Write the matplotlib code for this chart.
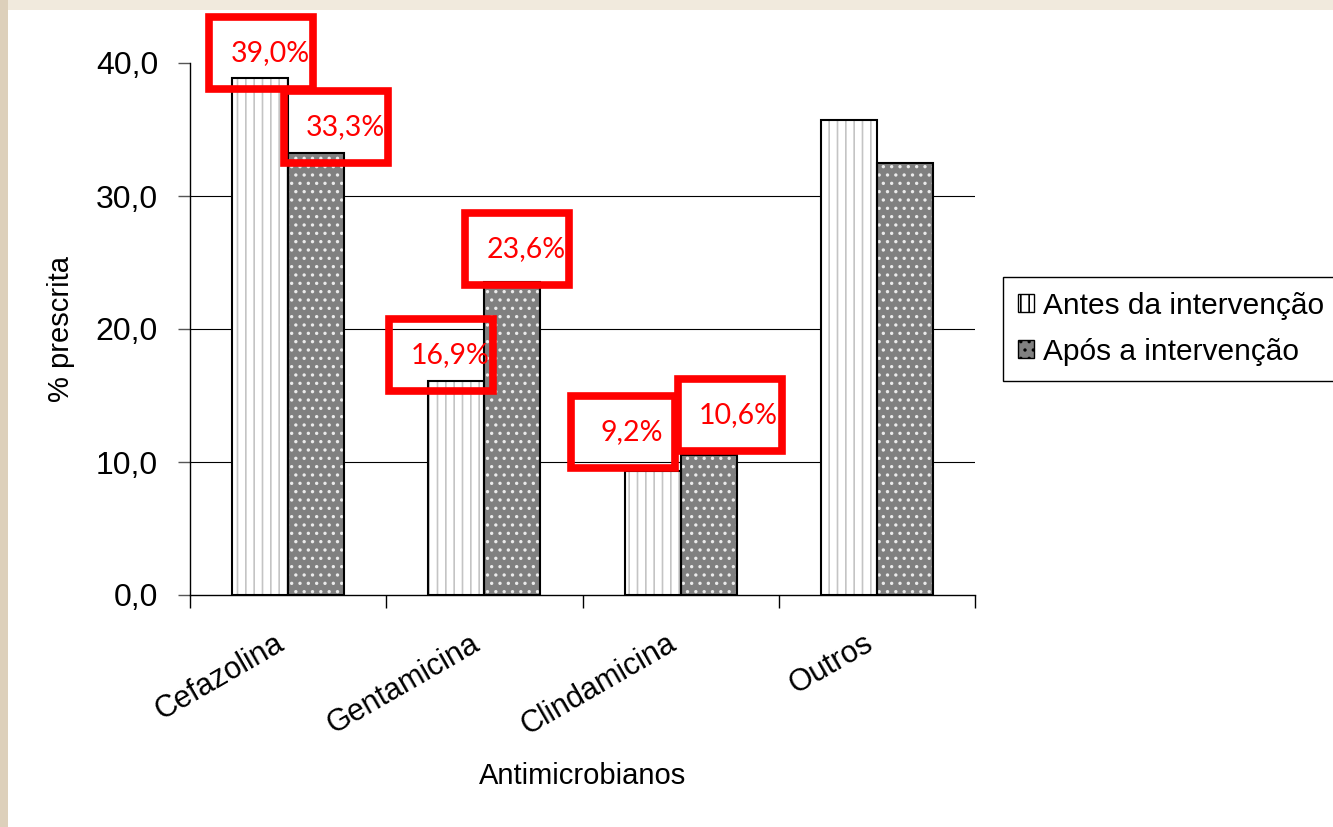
import matplotlib
matplotlib.use('Agg')
import matplotlib.pyplot as plt
import matplotlib.transforms as mtransforms
from matplotlib.patches import Rectangle, Patch
import numpy as np

# data
categories = ['Cefazolina', 'Gentamicina', 'Clindamicina', 'Outros']
antes = [38.9, 16.1, 9.3, 35.7]
apos = [33.2, 23.5, 10.5, 32.5]
series_names = ['Antes da intervenção', 'Após a intervenção']

# highlighted labels: (category index, series 0/1, text)
highlights = [(0, 0, '39,0%'), (0, 1, '33,3%'),
              (1, 0, '16,9%'), (1, 1, '23,6%'),
              (2, 0, '9,2%'), (2, 1, '10,6%')]
# box centre offsets from bar top centre, in pixels (dx, dy)
box_offsets = [(1, 25), (20, 26), (-15, 26), (5, 33), (-30, 39), (21, 40)]

plt.rcParams['font.family'] = ['Liberation Sans', 'DejaVu Sans']
plt.rcParams['hatch.linewidth'] = 1.2

W, H = 1333, 827
fig = plt.figure(figsize=(W / 100, H / 100), dpi=100, facecolor='#f1eadd')
# white slide panel
fig.patches.append(Rectangle((8 / W, 0), 1, 1 - 10 / H, transform=fig.transFigure,
                             facecolor='white', edgecolor='none', zorder=-10))
fig.patches.append(Rectangle((0, 0), 8 / W, 1, transform=fig.transFigure,
                             facecolor='#ddd0bb', edgecolor='none', zorder=-10))

ax_l, ax_r, ax_t, ax_b = 190, 975, 63, 595
ax = fig.add_axes([ax_l / W, 1 - ax_b / H, (ax_r - ax_l) / W, (ax_b - ax_t) / H])
ax.set_facecolor('none')
ax.set_zorder(1)

x = np.arange(len(categories))
bw = 0.285
xa = x - bw / 2
xp = x + bw / 2

# hatched fills (hatch colour follows edgecolor), then black outlines on top
ax.bar(xa, antes, bw, color='white', edgecolor='#c4c4c4', hatch='||', linewidth=0, zorder=2)
ax.bar(xp, apos, bw, color='#808080', edgecolor='#ececec', hatch='..', linewidth=0, zorder=2)
ax.bar(xa, antes, bw, fill=False, edgecolor='black', linewidth=1.5, zorder=3)
ax.bar(xp, apos, bw, fill=False, edgecolor='black', linewidth=1.5, zorder=3)

ax.set_xlim(-0.5, len(categories) - 0.5)
ax.set_ylim(0, 40)
ax.set_yticks([0, 10, 20, 30, 40])
ax.set_yticklabels(['0,0', '10,0', '20,0', '30,0', '40,0'], fontsize=23)
for yv in [10, 20, 30]:
    ax.axhline(yv, color='black', linewidth=0.8, zorder=1)

ax.set_xticks(np.arange(len(categories) + 1) - 0.5)
ax.set_xticklabels([])
ax.set_xticks(x, minor=True)
ax.set_xticklabels(categories, minor=True, rotation=30, ha='right',
                   rotation_mode='anchor', fontsize=22)
ax.tick_params(axis='x', which='minor', length=0, pad=24)
ax.tick_params(axis='x', which='major', length=9, width=1, direction='out')
ax.tick_params(axis='y', length=9, width=1, direction='out', pad=14, color='#555555')
shift = mtransforms.ScaledTranslation(-14 / 100, 0, fig.dpi_scale_trans)
for lab in ax.get_xticklabels(minor=True):
    lab.set_transform(lab.get_transform() + shift)

for s in ['top', 'right']:
    ax.spines[s].set_visible(False)
for s in ['left', 'bottom']:
    ax.spines[s].set_linewidth(1)

ax.set_ylabel('% prescrita', fontsize=21)
ax.yaxis.set_label_coords((75 - ax_l) / (ax_r - ax_l), 0.5)
ax.set_xlabel('Antimicrobianos', fontsize=21)
ax.xaxis.set_label_coords(0.5, (ax_b - 762) / (ax_b - ax_t))

# red highlight boxes
pxx = (ax_r - ax_l) / (len(categories))
pxy = (ax_b - ax_t) / 40.0
bw_px, bh_px = 104, 72
for (ci, si, txt), (dx, dy) in zip(highlights, box_offsets):
    cx = (xa if si == 0 else xp)[ci] + dx / pxx
    val = (antes if si == 0 else apos)[ci]
    cy = val + dy / pxy
    w = bw_px / pxx
    h = bh_px / pxy
    ax.add_patch(Rectangle((cx - w / 2, cy - h / 2), w, h, fill=False,
                           edgecolor='red', linewidth=5.5, clip_on=False, zorder=5,
                           joinstyle='miter'))
    ax.text(cx + 9 / pxx, cy, txt, color='red', fontsize=20.5, family=['Lato', 'DejaVu Sans'],
            ha='center', va='center', zorder=6, clip_on=False)

handles = [Patch(facecolor='white', edgecolor='black', hatch='||', linewidth=1),
           Patch(facecolor='#808080', edgecolor='black', hatch='..', linewidth=1)]
leg = fig.legend(handles, series_names, loc='upper left',
                 bbox_to_anchor=(1003 / W, 1 - 277 / H), fontsize=21.5,
                 fancybox=False, edgecolor='black', framealpha=1,
                 handlelength=0.55, handleheight=0.55, handletextpad=0.3,
                 borderpad=0.5, labelspacing=0.6, borderaxespad=0)
leg.get_frame().set_linewidth(1)

fig.savefig('out.png', dpi=100, facecolor=fig.get_facecolor())
